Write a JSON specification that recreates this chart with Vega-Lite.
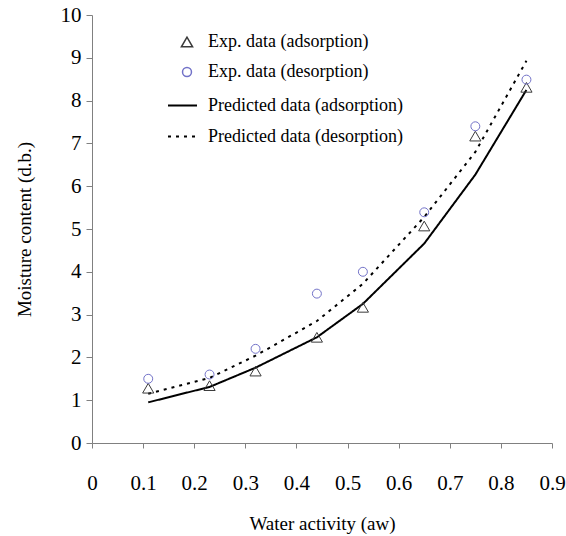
{
  "$schema": "https://vega.github.io/schema/vega-lite/v6.json",
  "autosize": "none",
  "width": 460,
  "height": 428,
  "padding": {"left": 92, "top": 15, "right": 14, "bottom": 93},
  "background": "white",
  "config": {
    "view": {"stroke": null},
    "font": "Liberation Serif",
    "axis": {
      "labelFont": "Liberation Serif",
      "titleFont": "Liberation Serif",
      "labelColor": "black",
      "titleColor": "black",
      "labelFontSize": 21,
      "titleFontSize": 19,
      "titleFontWeight": "normal",
      "domainColor": "#808080",
      "tickColor": "#808080",
      "grid": false
    },
    "legend": {
      "labelFont": "Liberation Serif",
      "labelFontSize": 18,
      "labelColor": "black",
      "labelLimit": 0
    }
  },
  "datasets": {
    "points": [
      {"aw": 0.11, "mc": 1.28, "series": "Exp. data (adsorption)"},
      {"aw": 0.23, "mc": 1.34, "series": "Exp. data (adsorption)"},
      {"aw": 0.32, "mc": 1.68, "series": "Exp. data (adsorption)"},
      {"aw": 0.44, "mc": 2.47, "series": "Exp. data (adsorption)"},
      {"aw": 0.53, "mc": 3.17, "series": "Exp. data (adsorption)"},
      {"aw": 0.65, "mc": 5.07, "series": "Exp. data (adsorption)"},
      {"aw": 0.75, "mc": 7.17, "series": "Exp. data (adsorption)"},
      {"aw": 0.85, "mc": 8.31, "series": "Exp. data (adsorption)"},
      {"aw": 0.11, "mc": 1.50, "series": "Exp. data (desorption)"},
      {"aw": 0.23, "mc": 1.60, "series": "Exp. data (desorption)"},
      {"aw": 0.32, "mc": 2.20, "series": "Exp. data (desorption)"},
      {"aw": 0.44, "mc": 3.49, "series": "Exp. data (desorption)"},
      {"aw": 0.53, "mc": 4.00, "series": "Exp. data (desorption)"},
      {"aw": 0.65, "mc": 5.39, "series": "Exp. data (desorption)"},
      {"aw": 0.75, "mc": 7.40, "series": "Exp. data (desorption)"},
      {"aw": 0.85, "mc": 8.49, "series": "Exp. data (desorption)"}
    ],
    "lines": [
      {"aw": 0.11, "mc": 0.95, "model": "Predicted data (adsorption)"},
      {"aw": 0.23, "mc": 1.31, "model": "Predicted data (adsorption)"},
      {"aw": 0.32, "mc": 1.76, "model": "Predicted data (adsorption)"},
      {"aw": 0.44, "mc": 2.47, "model": "Predicted data (adsorption)"},
      {"aw": 0.53, "mc": 3.25, "model": "Predicted data (adsorption)"},
      {"aw": 0.65, "mc": 4.66, "model": "Predicted data (adsorption)"},
      {"aw": 0.75, "mc": 6.27, "model": "Predicted data (adsorption)"},
      {"aw": 0.85, "mc": 8.25, "model": "Predicted data (adsorption)"},
      {"aw": 0.11, "mc": 1.15, "model": "Predicted data (desorption)"},
      {"aw": 0.23, "mc": 1.52, "model": "Predicted data (desorption)"},
      {"aw": 0.32, "mc": 2.04, "model": "Predicted data (desorption)"},
      {"aw": 0.44, "mc": 2.85, "model": "Predicted data (desorption)"},
      {"aw": 0.53, "mc": 3.72, "model": "Predicted data (desorption)"},
      {"aw": 0.65, "mc": 5.28, "model": "Predicted data (desorption)"},
      {"aw": 0.75, "mc": 6.80, "model": "Predicted data (desorption)"},
      {"aw": 0.85, "mc": 8.93, "model": "Predicted data (desorption)"}
    ]
  },
  "layer": [
    {
      "data": {"name": "lines"},
      "mark": {"type": "line", "color": "black", "strokeWidth": 2},
      "encoding": {
        "x": {
          "field": "aw", "type": "quantitative",
          "scale": {"domain": [0, 0.9], "nice": false, "zero": false},
          "axis": {
            "values": [0, 0.1, 0.2, 0.3, 0.4, 0.5, 0.6, 0.7, 0.8, 0.9],
            "format": ".1~f",
            "tickSize": 5,
            "labelPadding": 24,
            "labelFlush": false,
            "labelOverlap": false,
            "title": "Water activity (aw)",
            "titlePadding": 21
          }
        },
        "y": {
          "field": "mc", "type": "quantitative",
          "scale": {"domain": [0, 10], "nice": false},
          "axis": {
            "values": [0, 1, 2, 3, 4, 5, 6, 7, 8, 9, 10],
            "tickSize": 6,
            "labelPadding": 5,
            "labelFlush": false,
            "labelOverlap": false,
            "title": "Moisture content (d.b.)",
            "titlePadding": 26
          }
        },
        "strokeDash": {
          "field": "model", "type": "nominal",
          "scale": {
            "domain": ["Predicted data (adsorption)", "Predicted data (desorption)"],
            "range": [[1, 0], [3, 5]]
          },
          "legend": {
            "title": null,
            "orient": "none",
            "legendX": 75,
            "legendY": 75,
            "symbolType": "stroke",
            "symbolSize": 841,
            "symbolStrokeColor": "black",
            "symbolStrokeWidth": 2,
            "labelFont": "Liberation Serif",
            "labelFontSize": 18,
            "labelLimit": 0,
            "labelOffset": 10,
            "rowPadding": 6,
            "padding": 0
          }
        }
      }
    },
    {
      "data": {"name": "points"},
      "mark": {"type": "point", "filled": false, "strokeWidth": 1, "opacity": 1},
      "encoding": {
        "x": {"field": "aw", "type": "quantitative"},
        "y": {"field": "mc", "type": "quantitative"},
        "size": {
          "field": "series", "type": "nominal",
          "scale": {
            "domain": ["Exp. data (adsorption)", "Exp. data (desorption)"],
            "range": [125, 80]
          },
          "legend": null
        },
        "shape": {
          "field": "series", "type": "nominal",
          "scale": {
            "domain": ["Exp. data (adsorption)", "Exp. data (desorption)"],
            "range": ["triangle-up", "circle"]
          },
          "legend": {
            "title": null,
            "orient": "none",
            "legendX": 86,
            "legendY": 18,
            "symbolSize": 80,
            "labelFont": "Liberation Serif",
            "labelFontSize": 18,
            "labelLimit": 0,
            "labelOffset": 12,
            "rowPadding": 12,
            "padding": 0
          }
        },
        "color": {
          "field": "series", "type": "nominal",
          "scale": {
            "domain": ["Exp. data (adsorption)", "Exp. data (desorption)"],
            "range": ["#3a3a3a", "#7272c8"]
          },
          "legend": {
            "title": null,
            "orient": "none",
            "legendX": 86,
            "legendY": 18,
            "symbolSize": 80,
            "labelFont": "Liberation Serif",
            "labelFontSize": 18,
            "labelLimit": 0,
            "labelOffset": 12,
            "rowPadding": 12,
            "padding": 0
          }
        }
      }
    }
  ]
}
